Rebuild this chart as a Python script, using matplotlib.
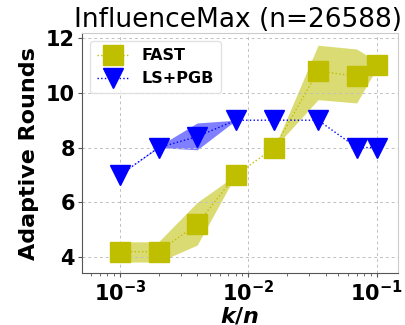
import matplotlib
matplotlib.use("Agg")
import matplotlib.pyplot as plt
import numpy as np

# k/n values (n = 26588)
k_over_n = [0.001, 0.002, 0.004, 0.008, 0.016, 0.035, 0.07, 0.1]

fast_mean = [4.2, 4.2, 5.2, 7.0, 8.0, 10.8, 10.6, 11.0]
fast_low = [3.82, 3.82, 4.44, 7.0, 8.0, 9.75, 9.63, 10.9]
fast_high = [4.56, 4.56, 6.0, 7.0, 8.0, 11.74, 11.6, 11.15]

pgb_mean = [7.0, 8.0, 8.4, 9.0, 9.0, 9.0, 8.0, 8.0]
pgb_low = [7.0, 8.0, 7.92, 9.0, 9.0, 9.0, 8.0, 8.0]
pgb_high = [7.0, 8.05, 8.9, 9.0, 9.0, 9.0, 8.0, 8.0]

title = "InfluenceMax (n=26588)"

fig = plt.figure(figsize=(4.05, 3.25), dpi=100)
ax = fig.add_axes([0.202, 0.16, 0.78, 0.738])

fast_color = "#bfbf00"
pgb_color = "#0000ff"

ax.fill_between(k_over_n, fast_low, fast_high, color=fast_color, alpha=0.55, lw=0)
ax.fill_between(k_over_n, pgb_low, pgb_high, color=pgb_color, alpha=0.5, lw=0)

ax.plot(k_over_n, fast_mean, linestyle=":", color=fast_color, lw=1.0,
        marker="s", markersize=14, label="FAST")
ax.plot(k_over_n, pgb_mean, linestyle=":", color=pgb_color, lw=1.0,
        marker="v", markersize=14, label="LS+PGB")

ax.set_xscale("log")
ax.set_xlim(5.05e-4, 0.146)
ax.set_ylim(3.42, 12.18)
ax.set_yticks([4, 6, 8, 10, 12])

ax.grid(True, which="major", linestyle=(0, (3, 3)), color="#c0c0c0", lw=0.7)

for side in ("left", "bottom"):
    ax.spines[side].set_color("#555555")
for side in ("top", "right"):
    ax.spines[side].set_color("#cccccc")

ax.tick_params(axis="both", which="major", labelsize=15, length=3, color="#555555", pad=2)
ax.tick_params(axis="x", which="minor", length=2, color="#555555")
for lbl in ax.get_xticklabels() + ax.get_yticklabels():
    lbl.set_fontweight("bold")

ax.set_title(title, fontsize=19, pad=1, x=0.495)
ax.set_ylabel("Adaptive Rounds", fontsize=16, fontweight="bold", labelpad=5)
ax.set_xlabel("$\\boldsymbol{k/n}$", fontsize=16, fontweight="bold", labelpad=0)

leg = ax.legend(loc="upper left", prop={"weight": "bold", "size": 11.5},
                framealpha=0.8, edgecolor="#dddddd", handlelength=2.0,
                borderpad=0.45, labelspacing=0.5, markerscale=1.05)

fig.savefig("out.png", dpi=100)
